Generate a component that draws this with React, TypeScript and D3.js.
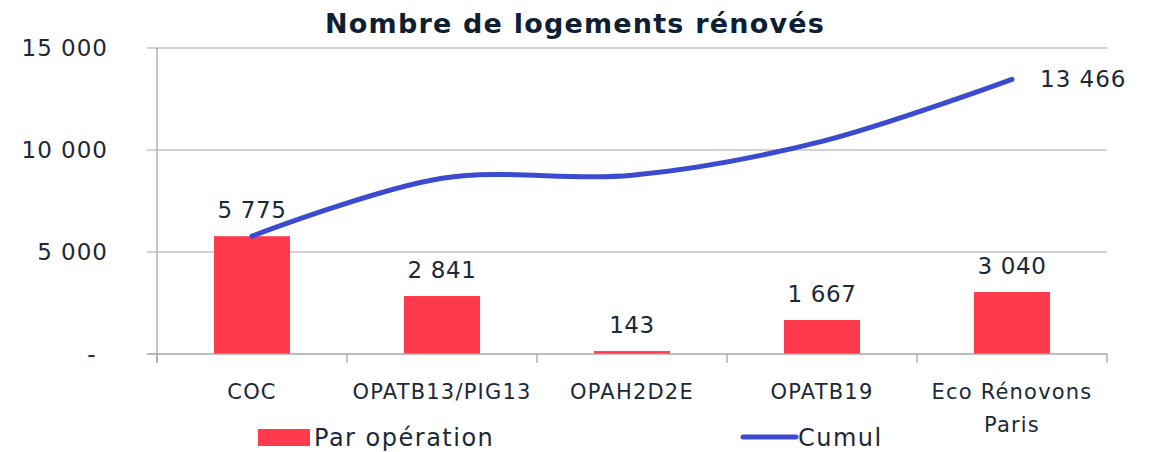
import React from 'react';
import * as d3 from 'd3';

const categories = ['COC', 'OPATB13/PIG13', 'OPAH2D2E', 'OPATB19', 'Eco Rénovons Paris'];
const parOperation = [5775, 2841, 143, 1667, 3040];
const cumul = [5775, 8616, 8759, 10426, 13466];
const yTicks = [0, 5000, 10000, 15000];

const W = 1152;
const H = 452;
const FONT = "'DejaVu Sans', sans-serif";
const TEXT = '#1b2838';
const RED = '#ff3a4c';
const BLUE = '#3a4bd0';
const GRID = '#a6a6a6';

const fmt = (v: number) => (v === 0 ? '-' : d3.format(',')(v).replace(/,/g, ' '));

// split long category labels into two lines like the original
const wrapLabel = (s: string) => (s === 'Eco Rénovons Paris' ? ['Eco Rénovons', 'Paris'] : [s]);

export default function App() {
  const left = 157;
  const right = 1107;
  const top = 48;
  const bottom = 354;

  const x = d3.scaleBand<string>().domain(categories).range([left, right]).paddingInner(0.6).paddingOuter(0.3);
  const band = d3.scaleBand<string>().domain(categories).range([left, right]);
  const y = d3.scaleLinear().domain([0, 15000]).range([bottom, top]);

  const line = d3
    .line<number>()
    .x((_, i) => (band(categories[i]) as number) + band.bandwidth() / 2)
    .y((d) => y(d))
    .curve(d3.curveCatmullRom.alpha(0.5));

  const last = cumul.length - 1;

  return (
    <svg width={W} height={H} style={{ position: 'absolute', left: 0, top: 0 }} fontFamily={FONT}>
      <rect width={W} height={H} fill="#fff" />
      <text x={575} y={33} textAnchor="middle" fontSize={27} fontWeight="bold" letterSpacing={1.2} fill="#0e1f33">
        Nombre de logements rénovés
      </text>

      {yTicks.map((t) => (
        <g key={t}>
          {t > 0 && <line x1={147} x2={right} y1={y(t)} y2={y(t)} stroke={GRID} strokeWidth={1} />}
          <text
            x={t === 0 ? 92 : 108}
            y={y(t)}
            dy="0.35em"
            textAnchor={t === 0 ? 'middle' : 'end'}
            fontSize={23}
            letterSpacing={1}
            fill={TEXT}
          >
            {fmt(t)}
          </text>
        </g>
      ))}

      {parOperation.map((v, i) => (
        <rect
          key={categories[i]}
          x={x(categories[i])}
          y={y(v)}
          width={x.bandwidth()}
          height={bottom - y(v)}
          fill={RED}
        />
      ))}

      {/* axes */}
      <line x1={left} x2={left} y1={top} y2={bottom + 9} stroke={GRID} strokeWidth={1.3} />
      <line x1={147} x2={right} y1={bottom} y2={bottom} stroke={GRID} strokeWidth={1.3} />
      {categories.concat(['end']).map((c, i) => {
        const xx = left + i * band.bandwidth();
        return <line key={c + i} x1={xx} x2={xx} y1={bottom} y2={bottom + 9} stroke={GRID} strokeWidth={1.3} />;
      })}

      <path d={line(cumul) as string} fill="none" stroke={BLUE} strokeWidth={5} strokeLinecap="round" />

      {parOperation.map((v, i) => (
        <text
          key={'l' + i}
          x={(x(categories[i]) as number) + x.bandwidth() / 2}
          y={y(v) - 18}
          textAnchor="middle"
          fontSize={23}
          letterSpacing={0.6}
          fill={TEXT}
        >
          {fmt(v)}
        </text>
      ))}
      <text
        x={(band(categories[last]) as number) + band.bandwidth() / 2 + 28}
        y={y(cumul[last])}
        dy="0.35em"
        fontSize={23}
        letterSpacing={1}
        fill={TEXT}
      >
        {fmt(cumul[last])}
      </text>

      {categories.map((c) => (
        <text key={'x' + c} textAnchor="middle" fontSize={21} letterSpacing={1.2} fill={TEXT}>
          {wrapLabel(c).map((s, j) => (
            <tspan key={j} x={(band(c) as number) + band.bandwidth() / 2} y={399 + j * 33}>
              {s}
            </tspan>
          ))}
        </text>
      ))}

      {/* legend */}
      <rect x={258} y={429} width={52} height={17} fill={RED} />
      <text x={314} y={446} fontSize={24} letterSpacing={1.5} fill={TEXT}>
        Par opération
      </text>
      <line x1={743} x2={796} y1={437} y2={437} stroke={BLUE} strokeWidth={5} strokeLinecap="round" />
      <text x={798} y={446} fontSize={24} letterSpacing={1.5} fill={TEXT}>
        Cumul
      </text>
    </svg>
  );
}
